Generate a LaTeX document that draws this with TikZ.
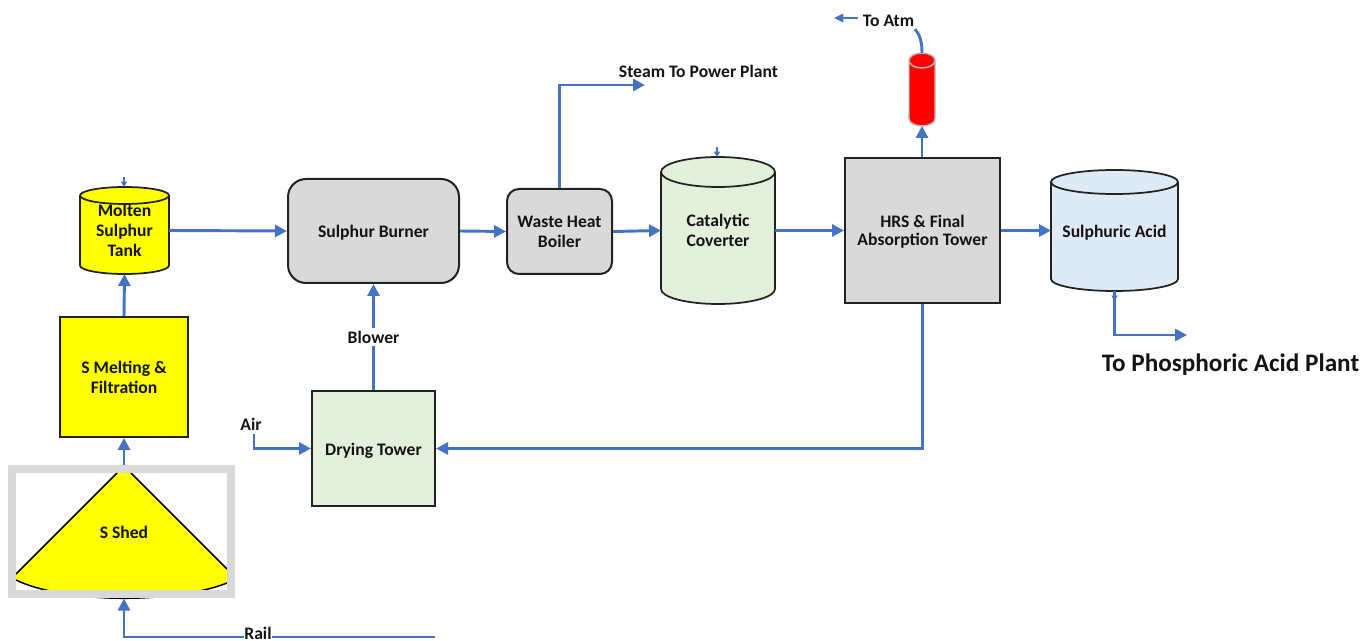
\documentclass[tikz,border=0pt]{standalone}
\usepackage{fontspec}
\setmainfont{Carlito}
\usetikzlibrary{arrows.meta,calc}
\definecolor{flow}{HTML}{4472C4}
\definecolor{greyfill}{HTML}{D9D9D9}
\definecolor{greenfill}{HTML}{E2EFDA}
\definecolor{bluefill}{HTML}{DEEAF6}
\definecolor{inkline}{HTML}{222222}
\definecolor{pureyellow}{HTML}{FFFF00}
\definecolor{purered}{HTML}{FF0000}
\newcommand{\nudgedown}[1]{\raisebox{-1.4pt}[\height][\depth]{#1}}
\tikzset{
  x=0.75pt,y=0.75pt,
  every node/.style={font=\bfseries\fontsize{13.2pt}{15pt}\selectfont,text=black!92,align=center},
  unit/.style={draw=inkline,line width=1.5pt,inner sep=0pt},
  flowline/.style={draw=flow,line width=2.2pt,-{Triangle[length=9pt,width=9pt]}},
  plainline/.style={draw=flow,line width=2.2pt},
  thinflow/.style={draw=flow,line width=.8pt,-{Triangle[length=4pt,width=4.5pt]}},
  tanklook/.style={draw=inkline,line width=1.3pt},
}
% name, cx, cy, w, h, ry, look, text
\newcommand{\tankunit}[8]{%
  \path[#7] ({#2-#4/2},{#3+#5/2-#6})
    arc[start angle=180,end angle=0,x radius={#4/2},y radius=#6]
    -- ({#2+#4/2},{#3-#5/2+#6})
    arc[start angle=0,end angle=-180,x radius={#4/2},y radius=#6]
    -- cycle;
  \path[#7,fill opacity=0] ({#2-#4/2},{#3+#5/2-#6})
    arc[start angle=180,end angle=360,x radius={#4/2},y radius=#6];
  \node[inner sep=0pt,outer sep=0pt,minimum width={#4*0.75pt},minimum height={#5*0.75pt}] (#1) at (#2,#3) {#8};
}
\begin{document}
\begin{tikzpicture}
\useasboundingbox (0,0) rectangle (1363,-641);

% S Shed cone
\fill[pureyellow] (117,-473) -- (131,-473) -- (227,-569) -- (227,-583)
  .. controls (205,-592) and (165,-598.3) .. (124,-598.3)
  .. controls (85,-598.3) and (40,-592) .. (16,-580) -- (16,-574) -- cycle;
\draw[black,line width=1.1pt] (117,-473) -- (16,-574);
\draw[black,line width=1.1pt] (131,-473) -- (227,-569);
\draw[black,line width=1.1pt] (227,-583)
  .. controls (205,-592) and (165,-598.3) .. (124,-598.3)
  .. controls (85,-598.3) and (40,-592) .. (16,-580);
\node[draw=greyfill,line width=6pt,inner sep=0pt,minimum width=219*0.75pt,minimum height=125*0.75pt] (shed) at (121.5,-531.5) {};
\node (shedlabel) at (124,-532) {S Shed};

% Process units
\node[unit,fill=pureyellow,minimum width=128*0.75pt,minimum height=120*0.75pt] (melt) at (124,-377) {S Melting \&\\Filtration};
\node[unit,fill=greyfill,rounded corners=13.5pt,minimum width=171*0.75pt,minimum height=104*0.75pt] (burner) at (373.5,-231) {\nudgedown{Sulphur Burner}};
\node[unit,fill=greyfill,rounded corners=9pt,minimum width=105*0.75pt,minimum height=85*0.75pt] (boiler) at (559.5,-231.5) {Waste Heat\\Boiler};
\node[unit,fill=greyfill,minimum width=155*0.75pt,minimum height=145*0.75pt] (hrs) at (922.5,-230.5) {\nudgedown{HRS \& Final}\\Absorption Tower};
\node[unit,fill=greenfill,minimum width=123*0.75pt,minimum height=115*0.75pt] (dry) at (373.5,-448.5) {\nudgedown{Drying Tower}};

% Tanks
\tankunit{molten}{124.5}{-230.5}{89}{87}{8.5}{tanklook,fill=pureyellow}{Molten\\Sulphur\\Tank}
\tankunit{cat}{718}{-230.5}{114}{147}{15}{tanklook,fill=greenfill}{Catalytic\\Coverter}
\tankunit{acid}{1114.5}{-230.5}{127}{121}{12}{tanklook,fill=bluefill}{\nudgedown{Sulphuric Acid}}
\tankunit{stack}{922}{-89.5}{26}{73}{7.5}{draw=black!28,line width=1.1pt,fill=purered}{}

% Labels
\node (blower) at (373.5,-337) [fill=white,inner sep=1.5pt] {Blower};
\node (air) at (251,-424) {Air};
\node (rail) at (258,-633.5) [inner sep=0.5pt] {Rail};
\node (steam) at (698.5,-71) {Steam To Power Plant};
\node (atm) at (888.5,-20.5) {To Atm};
\node (phos) at (1230.5,-364.5) [font=\bfseries\fontsize{18.9pt}{22pt}\selectfont] {To Phosphoric Acid Plant};

% Free ends
\coordinate (railend) at (435,-637);
\coordinate (railcorner) at (124,-637);
\coordinate (railleft) at (244,-637);
\coordinate (railright) at (272,-637);
\coordinate (airstart) at (254,-434);
\coordinate (atmtip) at (834,-18);
\coordinate (steamtip) at (645,-85);
\coordinate (phostip) at (1187,-335);
\coordinate (moltenfeed) at (124,-177);
\coordinate (catfeed) at (717,-147);
\coordinate (atmcurve) at (915,-29);

% Connectors
\draw[plainline] (railend) -- (railright);
\draw[flowline] (railleft) -- (railcorner) -- (124,-598.5);
\draw[flowline] (shed.north -| melt.south) -- (melt.south);
\draw[flowline] (melt.north) -- (molten.south);
\draw[thinflow] (moltenfeed) -- (124,-187);
\draw[thinflow] (catfeed) -- (717,-157);
\draw[flowline] (molten.east) -- (burner.west);
\draw[flowline] (burner.east) -- (boiler.west);
\draw[flowline] (boiler.east) -- (cat.west);
\draw[flowline] (cat.east) -- (hrs.west);
\draw[flowline] (hrs.east) -- (acid.west);
\draw[flowline] (hrs.north -| stack.south) -- (stack.south);
\draw[plainline] (stack.north) .. controls (922,-42) and (920,-35) .. (atmcurve);
\draw[draw=flow,line width=1.5pt,-{Triangle[length=7pt,width=6.5pt]}] (atm.west |- atmtip) -- (atmtip);
\draw[plainline] (dry.north) -- (blower.south);
\draw[flowline] (blower.north) -- (burner.south);
\draw[flowline] (airstart) |- (dry.west);
\draw[flowline] (hrs.south) |- (dry.east);
\draw[flowline] (boiler.north) |- (steamtip);
\draw[flowline] (acid.south) |- (phostip);
\draw[thinflow] (acid.south) -- (1114.5,-301);
\end{tikzpicture}
\end{document}
